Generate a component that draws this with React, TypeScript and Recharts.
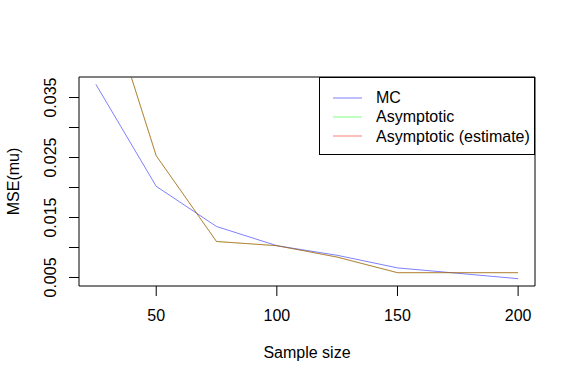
import { LineChart, Line, XAxis, YAxis, ReferenceArea } from 'recharts';

const sampleSizes = [25, 50, 75, 100, 125, 150, 175, 200];
const mcValues = [0.0372, 0.0202, 0.0135, 0.0103, 0.0087, 0.0066, 0.0057, 0.0048];
const asymptoticValues = [0.057, 0.0253, 0.011, 0.0103, 0.0084, 0.0058, 0.0058, 0.0058];
const asymptoticEstValues = [0.057, 0.0253, 0.011, 0.0103, 0.0084, 0.0058, 0.0058, 0.0058];

const seriesNames = ['MC', 'Asymptotic', 'Asymptotic (estimate)'];
const seriesKeys = ['mc', 'asym', 'asymEst'];
const seriesColors = ['#0000ff', '#00ff00', '#ff0000'];

const xTicks = [50, 100, 150, 200];
const yTicks = [0.005, 0.01, 0.015, 0.02, 0.025, 0.03, 0.035];
const yTickLabels = ['0.005', '0.015', '0.025', '0.035'];

const X_DOMAIN: [number, number] = [18, 207];
const Y_DOMAIN: [number, number] = [0.00358, 0.03842];

const FONT = '"Liberation Sans", Arial, sans-serif';

const data = sampleSizes.map((n, i) => ({
  n,
  mc: mcValues[i],
  asym: asymptoticValues[i],
  asymEst: asymptoticEstValues[i],
}));

const XTick = (props: any) => {
  const { x, payload } = props;
  return (
    <text x={x} y={321} textAnchor="middle" fontSize={16} fontFamily={FONT} fill="#000">
      {payload.value}
    </text>
  );
};

const YTick = (props: any) => {
  const { y, payload } = props;
  const label = payload.value.toFixed(3);
  if (!yTickLabels.includes(label)) return <g />;
  return (
    <text
      x={56}
      y={y}
      transform={`rotate(-90, 56, ${y})`}
      textAnchor="middle"
      fontSize={16}
      fontFamily={FONT}
      fill="#000"
    >
      {label}
    </text>
  );
};

function LegendBox() {
  return (
    <div
      style={{
        position: 'absolute',
        left: 319,
        top: 77,
        width: 216,
        height: 78,
        border: '1px solid #000',
        background: '#fff',
        fontFamily: FONT,
        fontSize: 16,
        boxSizing: 'border-box',
        paddingTop: 10,
      }}
    >
      {seriesNames.map((name, i) => (
        <div key={name} style={{ display: 'flex', alignItems: 'center', height: 19.3 }}>
          <svg width={56} height={4} style={{ display: 'block' }}>
            <line x1={13} x2={42} y1={2} y2={2} stroke={seriesColors[i]} strokeOpacity={0.5} strokeWidth={1} />
          </svg>
          <span style={{ lineHeight: '19px' }}>{name}</span>
        </div>
      ))}
    </div>
  );
}

export default function App() {
  return (
    <div style={{ position: 'absolute', left: 0, top: 0, width: 576, height: 384, background: '#fff' }}>
      <LineChart width={576} height={384} data={data} margin={{ top: 77, right: 41, left: 0, bottom: 0 }}>
        <XAxis
          type="number"
          dataKey="n"
          domain={X_DOMAIN}
          ticks={xTicks}
          allowDataOverflow
          height={98}
          axisLine={false}
          tickSize={10}
          tickLine={{ stroke: '#000' }}
          tick={<XTick />}
          label={{
            content: ({ viewBox }: any) => (
              <text
                x={viewBox.x + viewBox.width / 2}
                y={358}
                textAnchor="middle"
                fontSize={16}
                fontFamily={FONT}
                fill="#000"
              >
                Sample size
              </text>
            ),
          }}
        />
        <YAxis
          type="number"
          domain={Y_DOMAIN}
          ticks={yTicks}
          allowDataOverflow
          width={79}
          axisLine={false}
          tickSize={10}
          tickLine={{ stroke: '#000' }}
          tick={<YTick />}
          label={{
            content: ({ viewBox }: any) => {
              const cy = viewBox.y + viewBox.height / 2;
              return (
                <text
                  x={19}
                  y={cy}
                  transform={`rotate(-90, 19, ${cy})`}
                  textAnchor="middle"
                  fontSize={16}
                  fontFamily={FONT}
                  fill="#000"
                >
                  MSE(mu)
                </text>
              );
            },
          }}
        />
        {seriesKeys.map((key, i) => (
          <Line
            key={key}
            dataKey={key}
            name={seriesNames[i]}
            stroke={seriesColors[i]}
            strokeOpacity={0.5}
            strokeWidth={1}
            dot={false}
            isAnimationActive={false}
          />
        ))}
        <ReferenceArea
          x1={X_DOMAIN[0]}
          x2={X_DOMAIN[1]}
          y1={Y_DOMAIN[0]}
          y2={Y_DOMAIN[1]}
          fill="none"
          stroke="#000"
          strokeWidth={1}
          ifOverflow="visible"
        />
      </LineChart>
      <LegendBox />
    </div>
  );
}
